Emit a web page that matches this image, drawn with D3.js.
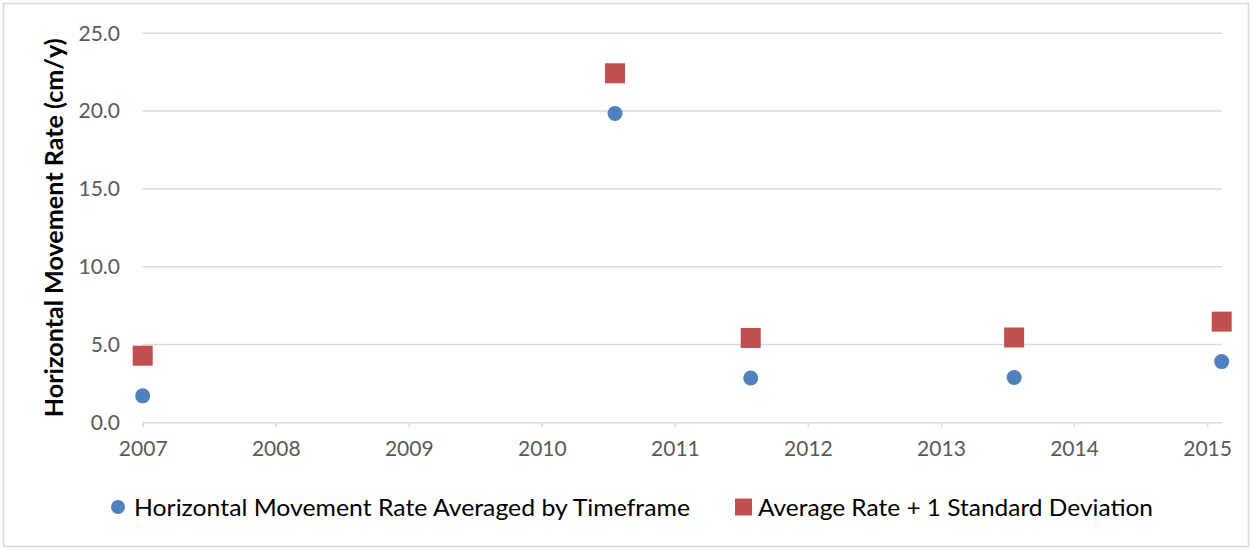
<!DOCTYPE html>
<html>
<head>
<meta charset="utf-8">
<script src="https://cdn.jsdelivr.net/npm/d3@7"></script>
<style>
  html, body { margin: 0; padding: 0; background: #fff; }
  text { font-family: Lato, "Open Sans", sans-serif; }
</style>
</head>
<body>
<div id="chart"></div>
<script>
// Data

const years = [2007, 2010.55, 2011.57, 2013.55, 2015.11];
const avgRate = [1.7, 19.85, 2.85, 2.88, 3.9];
const avgPlusSd = [4.28, 22.43, 5.42, 5.45, 6.47];
const xTickValues = [2007, 2008, 2009, 2010, 2011, 2012, 2013, 2014, 2015];
const yTickValues = [0, 5, 10, 15, 20, 25];
const seriesNames = [
  'Horizontal Movement Rate Averaged by Timeframe',
  'Average Rate + 1 Standard Deviation',
];

const width = 1253;
const height = 550;
const blue = '#4f81bd';
const red = '#c0504d';
const grid = '#d9d9d9';

const svg = d3.select('#chart').append('svg')
  .attr('width', width)
  .attr('height', height);

// chart border
svg.append('rect')
  .attr('x', 3.5).attr('y', 3.5)
  .attr('width', 1245).attr('height', 543)
  .attr('fill', '#fff')
  .attr('stroke', grid)
  .attr('stroke-width', 1.5);

const xScale = d3.scaleLinear().domain([2007, 2015.11]).range([142.7, 1221.7]);
const yScale = d3.scaleLinear().domain([0, 25]).range([422.3, 33.3]);

// horizontal gridlines
svg.append('g')
  .selectAll('line')
  .data(yTickValues.filter(d => d > 0))
  .enter()
  .append('line')
  .attr('x1', xScale.range()[0])
  .attr('x2', xScale.range()[1])
  .attr('y1', d => yScale(d))
  .attr('y2', d => yScale(d))
  .attr('stroke', grid)
  .attr('stroke-width', 1.5);

// y axis labels (no axis line)
const yAxis = d3.axisLeft(yScale)
  .tickValues(yTickValues)
  .tickFormat(d3.format('.1f'))
  .tickSize(0)
  .tickPadding(0);

const yAxisGroup = svg.append('g')
  .attr('transform', 'translate(120,0)')
  .call(yAxis);
yAxisGroup.select('.domain').remove();
yAxisGroup.selectAll('text')
  .attr('fill', '#595959')
  .style('font-size', '21px')
  .style('font-family', 'Lato, sans-serif');

// x axis
const xAxis = d3.axisBottom(xScale)
  .tickValues(xTickValues)
  .tickFormat(d3.format('d'))
  .tickSizeInner(5)
  .tickSizeOuter(0)
  .tickPadding(14);

const xAxisGroup = svg.append('g')
  .attr('transform', `translate(0,${yScale(0)})`)
  .call(xAxis);
xAxisGroup.select('.domain')
  .attr('stroke', grid)
  .attr('stroke-width', 1.5);
xAxisGroup.selectAll('.tick line')
  .attr('stroke', grid)
  .attr('stroke-width', 1.5);
xAxisGroup.selectAll('text')
  .attr('fill', '#595959')
  .style('font-size', '21px')
  .style('font-family', 'Lato, sans-serif');

// y axis title
svg.append('text')
  .attr('transform', `translate(63,${(yScale(0) + yScale(25)) / 2}) rotate(-90)`)
  .attr('text-anchor', 'middle')
  .attr('fill', '#000')
  .attr('textLength', 379)
  .attr('lengthAdjust', 'spacingAndGlyphs')
  .style('font-size', '25px')
  .style('font-weight', 'bold')
  .text('Horizontal Movement Rate (cm/y)');

// series: average + 1 sd (squares)
const sq = 20;
svg.append('g')
  .selectAll('rect')
  .data(avgPlusSd)
  .enter()
  .append('rect')
  .attr('x', (d, i) => xScale(years[i]) - sq / 2)
  .attr('y', d => yScale(d) - sq / 2)
  .attr('width', sq)
  .attr('height', sq)
  .attr('fill', red);

// series: average rate (circles)
svg.append('g')
  .selectAll('circle')
  .data(avgRate)
  .enter()
  .append('circle')
  .attr('cx', (d, i) => xScale(years[i]))
  .attr('cy', d => yScale(d))
  .attr('r', 7.5)
  .attr('fill', blue);

// legend
const legendY = 507;
const legend = svg.append('g');
legend.append('circle')
  .attr('cx', 118).attr('cy', legendY).attr('r', 7)
  .attr('fill', blue);
legend.append('text')
  .attr('x', 134).attr('y', legendY)
  .attr('dy', '0.36em')
  .attr('fill', '#000')
  .attr('textLength', 556)
  .attr('lengthAdjust', 'spacingAndGlyphs')
  .style('font-size', '24px')
  .text(seriesNames[0]);
legend.append('rect')
  .attr('x', 735).attr('y', legendY - 8.5)
  .attr('width', 17).attr('height', 17)
  .attr('fill', red);
legend.append('text')
  .attr('x', 758).attr('y', legendY)
  .attr('dy', '0.36em')
  .attr('fill', '#000')
  .attr('textLength', 395)
  .attr('lengthAdjust', 'spacingAndGlyphs')
  .style('font-size', '24px')
  .text(seriesNames[1]);
</script>
</body>
</html>
